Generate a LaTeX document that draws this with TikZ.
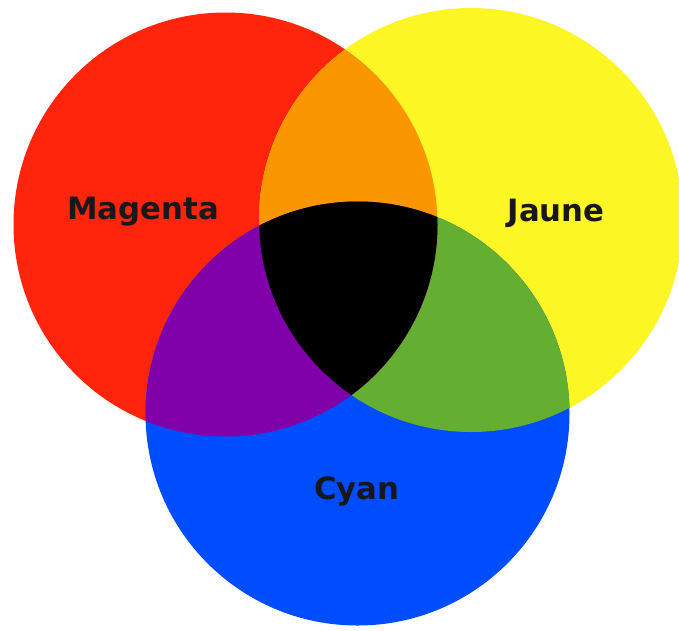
\documentclass[tikz,border=0pt]{standalone}
\usepackage{fontspec}
\setsansfont{DejaVu Sans}
\definecolor{magentafill}{RGB}{255,36,12}
\definecolor{jaunefill}{RGB}{252,246,36}
\definecolor{cyanfill}{RGB}{0,76,255}
\definecolor{orangemix}{RGB}{250,150,0}
\definecolor{violetmix}{RGB}{128,0,170}
\definecolor{vertmix}{RGB}{100,174,50}
\definecolor{labeldark}{RGB}{24,24,28}

\begin{document}
\begin{tikzpicture}[
  x=0.02cm, y=-0.02cm,
  lab/.style={font=\sffamily\bfseries\fontsize{17.5}{20}\selectfont,
              text=labeldark, inner sep=0pt},
]

% background
\fill[white] (0,0) rectangle (679,630);
\clip (0,0) rectangle (679,630);

% centres
\coordinate (M) at (225.5,224.5);
\coordinate (J) at (471,220);
\coordinate (C) at (357.5,413.5);
\def\rad{212}

% primary circles
\fill[magentafill] (M) circle[radius=\rad];
\fill[jaunefill]   (J) circle[radius=\rad];
\fill[cyanfill]    (C) circle[radius=\rad];

% jaune + cyan
\begin{scope}
  \clip (J) circle[radius=\rad];
  \fill[vertmix] (C) circle[radius=\rad];
\end{scope}

% magenta + others
\begin{scope}
  \clip (M) circle[radius=\rad];
  \fill[orangemix] (J) circle[radius=\rad];
  \fill[violetmix] (C) circle[radius=\rad];
  \clip (J) circle[radius=\rad];
  \fill[black] (C) circle[radius=\rad];
\end{scope}

% labels
\node[lab] (magenta) at (143,212) {Magenta};
\node[lab] (jaune)   at (556,213) {Jaune};
\node[lab] (cyan)    at (357,491) {Cyan};

\end{tikzpicture}
\end{document}
